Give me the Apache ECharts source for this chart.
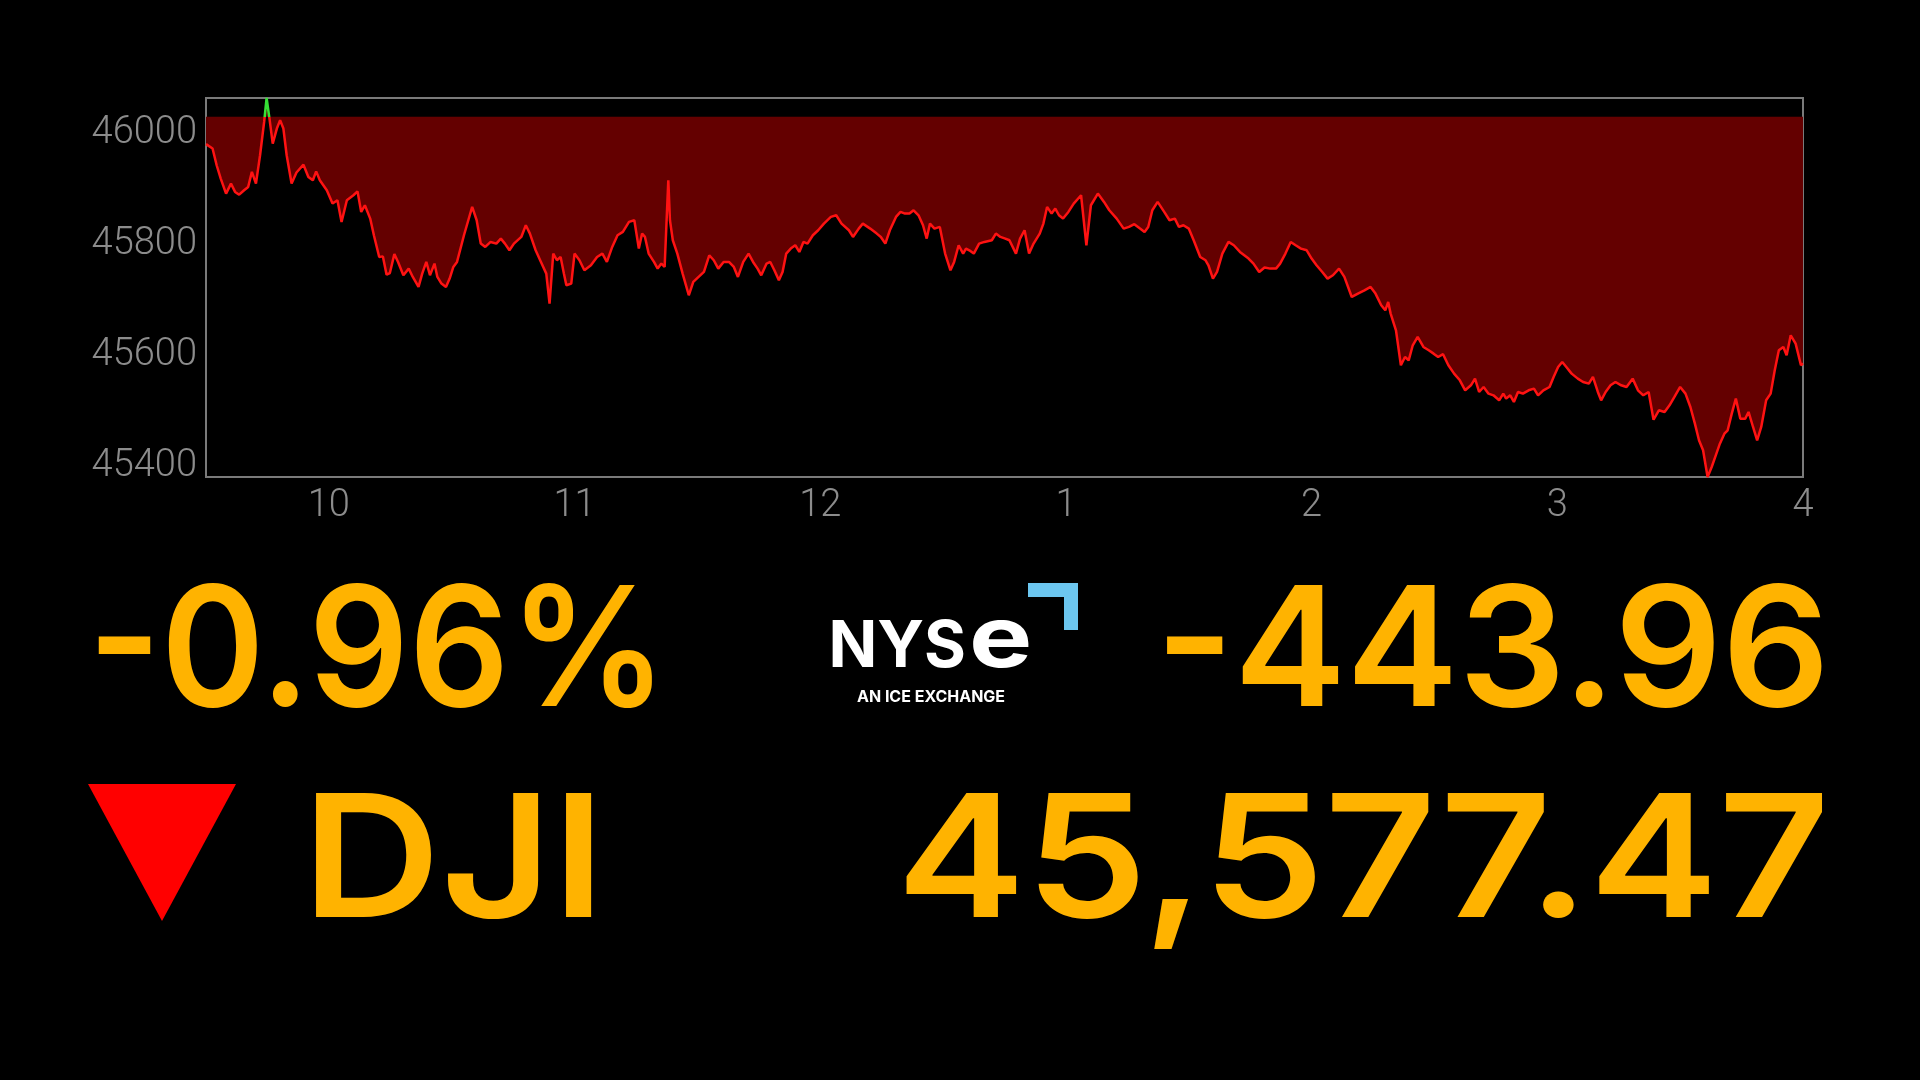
<!DOCTYPE html>
<html>
<head>
<meta charset="utf-8">
<script src="https://cdn.jsdelivr.net/npm/echarts@6/dist/echarts.min.js"></script>
<style>
  html, body { margin: 0; padding: 0; background: #000; }
  #chart { width: 1920px; height: 1080px; }
</style>
</head>
<body>
<div id="chart"></div>
<script>
// ---- Data ----
// Minutes since the 9:30 open
const minutesSinceOpen = [
  0, 1.6, 2.6, 3.6, 4.9, 6.1, 7.1, 8.1, 9.3, 10.3, 11.2, 12.2, 13.2, 14.2, 14.8, 15.5, 16.3, 17.3, 18.1, 18.9,
  19.7, 20.9, 22.1, 23.8, 25.0, 26.1, 26.9, 27.8, 29.5, 30.9, 32.1, 33.1, 34.4, 36.0, 37.0, 37.9, 38.8, 40.1, 41.0, 42.3,
  43.2, 44.1, 44.9, 46.0, 46.9, 48.2, 49.5, 50.5, 51.9, 52.8, 53.8, 54.7, 55.8, 56.5, 57.5, 58.6, 59.5, 60.4, 61.3, 63.0,
  65.0, 66.1, 67.1, 68.2, 69.5, 70.9, 72.0, 73.0, 74.1, 75.2, 77.0, 78.1, 79.1, 80.5, 81.8, 83.1, 83.9, 84.8, 85.7, 86.6,
  87.4, 88.0, 89.2, 90.0, 91.2, 92.4, 94.0, 95.5, 96.8, 97.9, 99.2, 100.5, 101.8, 103.3, 104.6, 105.7, 106.5, 107.2, 108.1, 109.4,
  110.3, 111.2, 112.0, 112.9, 113.3, 114.0, 115.1, 116.4, 117.9, 119.0, 120.3, 121.6, 122.9, 124.0, 125.1, 126.4, 127.7, 128.9, 129.9, 131.2,
  132.5, 133.6, 134.7, 135.6, 136.9, 137.8, 138.8, 139.9, 140.8, 141.7, 142.8, 143.9, 144.9, 145.9, 146.9, 148.2, 149.5, 150.9, 152.6, 153.9,
  155.2, 157.0, 158.0, 159.4, 160.4, 162.2, 163.8, 164.8, 165.9, 167.0, 168.5, 169.6, 170.7, 171.8, 172.8, 174.0, 175.1, 176.0, 176.8, 177.9,
  179.2, 180.5, 181.8, 182.7, 183.8, 184.9, 185.6, 186.4, 187.5, 188.8, 190.1, 191.9, 192.9, 194.0, 195.2, 196.2, 197.8, 198.8, 199.9, 201.0,
  202.1, 203.6, 204.5, 205.4, 206.5, 207.4, 208.3, 209.3, 210.6, 211.9, 213.7, 215.0, 216.1, 217.8, 219.3, 220.6, 222.4, 224.1, 225.4, 226.7,
  228.1, 229.2, 230.1, 231.1, 232.4, 234.0, 235.3, 236.6, 237.6, 238.7, 240.0, 241.2, 242.8, 244.1, 244.8, 245.9, 246.9, 248.2, 249.7, 251.0,
  252.5, 254.6, 255.8, 257.2, 258.5, 259.9, 261.3, 262.3, 263.6, 264.9, 266.1, 267.4, 268.8, 270.0, 271.2, 272.6, 273.9, 275.2, 276.7, 278.0,
  279.8, 281.3, 282.9, 284.4, 285.6, 287.0, 288.0, 288.7, 289.3, 290.6, 291.8, 292.8, 293.7, 294.7, 295.9, 297.3, 298.6, 299.8, 300.9, 302.1,
  303.4, 304.8, 306.2, 307.5, 308.9, 309.9, 310.9, 312.0, 313.2, 314.4, 315.8, 316.8, 317.5, 318.5, 319.4, 320.4, 321.6, 323.0, 324.3, 325.3,
  326.6, 328.1, 329.1, 330.2, 331.2, 332.2, 333.5, 335.0, 336.3, 337.7, 338.7, 339.9, 340.7, 341.8, 343.0, 344.2, 345.6, 346.9, 348.4, 349.7,
  351.0, 352.3, 353.5, 354.8, 356.2, 357.4, 358.6, 360.0, 361.3, 362.5, 363.6, 364.6, 365.6, 366.7, 367.7, 368.7, 369.7, 370.8, 371.6, 372.6,
  373.6, 374.7, 375.9, 376.7, 377.8, 378.8, 379.8, 381.0, 382.1, 383.1, 384.1, 385.2, 386.0, 387.0, 388.2, 389.5, 390.0
];
// Dow Jones Industrial Average level at those minutes
const djiValues = [
  45972, 45964, 45934, 45910, 45883, 45901, 45886, 45881, 45889, 45895, 45922, 45901, 45952, 46012, 46055, 46018, 45973, 46000, 46015, 46000,
  45952, 45901, 45921, 45935, 45913, 45907, 45923, 45907, 45889, 45865, 45871, 45832, 45871, 45880, 45887, 45850, 45862, 45838, 45808, 45769,
  45770, 45737, 45740, 45774, 45760, 45736, 45748, 45733, 45715, 45739, 45760, 45736, 45757, 45733, 45721, 45715, 45730, 45751, 45760, 45808,
  45859, 45835, 45793, 45787, 45796, 45793, 45802, 45793, 45781, 45793, 45805, 45826, 45811, 45781, 45760, 45739, 45685, 45775, 45763, 45769,
  45739, 45718, 45721, 45775, 45763, 45745, 45754, 45769, 45775, 45760, 45787, 45808, 45814, 45832, 45835, 45784, 45811, 45805, 45775, 45760,
  45748, 45757, 45751, 45907, 45835, 45799, 45775, 45739, 45700, 45724, 45733, 45742, 45772, 45763, 45748, 45760, 45760, 45751, 45733, 45760,
  45775, 45760, 45748, 45736, 45757, 45760, 45745, 45727, 45742, 45775, 45784, 45790, 45778, 45796, 45793, 45808, 45817, 45829, 45841, 45844,
  45829, 45817, 45805, 45820, 45829, 45820, 45811, 45805, 45793, 45817, 45841, 45850, 45847, 45847, 45853, 45844, 45826, 45802, 45829, 45820,
  45823, 45775, 45745, 45760, 45790, 45775, 45784, 45781, 45775, 45793, 45796, 45799, 45811, 45805, 45802, 45799, 45775, 45802, 45817, 45775,
  45793, 45811, 45829, 45859, 45847, 45856, 45844, 45838, 45850, 45865, 45880, 45790, 45862, 45883, 45868, 45853, 45838, 45820, 45823, 45828,
  45820, 45814, 45823, 45853, 45868, 45850, 45835, 45838, 45823, 45826, 45820, 45799, 45769, 45763, 45754, 45730, 45742, 45775, 45796, 45790,
  45778, 45766, 45757, 45742, 45750, 45748, 45748, 45757, 45775, 45796, 45790, 45784, 45781, 45766, 45754, 45742, 45730, 45736, 45748, 45733,
  45697, 45703, 45709, 45715, 45703, 45682, 45673, 45688, 45667, 45637, 45574, 45589, 45583, 45610, 45625, 45607, 45601, 45595, 45589, 45594,
  45574, 45559, 45547, 45529, 45538, 45550, 45526, 45535, 45523, 45520, 45511, 45523, 45514, 45520, 45508, 45526, 45523, 45529, 45532, 45520,
  45529, 45535, 45553, 45571, 45580, 45571, 45559, 45550, 45544, 45541, 45553, 45526, 45511, 45526, 45538, 45544, 45538, 45535, 45550, 45529,
  45520, 45526, 45476, 45493, 45490, 45502, 45517, 45535, 45523, 45499, 45469, 45439, 45421, 45373, 45391, 45412, 45433, 45451, 45457, 45487,
  45514, 45478, 45478, 45490, 45463, 45439, 45463, 45511, 45523, 45565, 45601, 45607, 45592, 45628, 45613, 45574, 45577.47
];
// Tick labels
const xTickMinutes = [30, 90, 150, 210, 270, 330, 390];
const xTickLabels = ['10', '11', '12', '1', '2', '3', '4'];
const yTickValues = [45400, 45600, 45800, 46000];
// Headline numbers
const indexName = 'DJI';
const lastPrice = 45577.47;
const netChange = -443.96;
const pctChange = -0.96;
const previousClose = +(lastPrice - netChange).toFixed(2);

// ---- Chart ----
const seriesData = minutesSinceOpen.map((m, i) => [m, djiValues[i]]);
const chart = echarts.init(document.getElementById('chart'), null, { renderer: 'canvas' });

const axisFont = { color: '#8c8c8c', fontSize: 38, fontFamily: 'Roboto', fontWeight: 300 };
const gold = '#FFB300';
const bigFont = 'Inter';

function bigText(str, x, y, size, align, sx) {
  return {
    type: 'text', x: x, y: y, scaleX: sx,
    style: {
      text: str, fill: gold, font: '600 ' + size + 'px ' + bigFont,
      align: align, verticalAlign: 'middle', textAlign: align, textVerticalAlign: 'middle'
    }
  };
}

const option = {
  backgroundColor: '#000000',
  animation: false,
  grid: {
    left: 206, right: 117, top: 98, bottom: 603,
    show: true, borderColor: '#7a7a7a', borderWidth: 2,
    outerBoundsMode: 'none'
  },
  xAxis: {
    type: 'value', min: 0, max: 390,
    splitLine: { show: false }, axisLine: { show: false }, axisTick: { show: false },
    axisLabel: Object.assign({
      customValues: xTickMinutes,
      formatter: v => xTickLabels[xTickMinutes.indexOf(v)],
      margin: 10, showMinLabel: true, showMaxLabel: true, hideOverlap: false
    }, axisFont)
  },
  yAxis: {
    type: 'value', min: 'dataMin', max: 'dataMax', scale: true,
    splitLine: { show: false }, axisLine: { show: false }, axisTick: { show: false },
    axisLabel: Object.assign({
      customValues: yTickValues, margin: 9,
      formatter: v => '{v|' + v + '}',
      rich: { v: Object.assign({ padding: [10, 0, 0, 0] }, axisFont) }
    }, axisFont)
  },
  visualMap: {
    show: false, type: 'piecewise', dimension: 1, seriesIndex: 0,
    pieces: [
      { gt: previousClose, lte: 47000, color: '#35e035' },
      { gte: 44000, lte: previousClose, color: '#ff1212' }
    ]
  },
  series: [{
    type: 'line',
    data: seriesData,
    symbol: 'none',
    lineStyle: { width: 2.5 },
    areaStyle: { origin: previousClose, color: '#640000', opacity: 1 },
    z: 3
  }],
  graphic: [
    // down triangle
    { type: 'polygon', shape: { points: [[88, 784], [236, 784], [162, 921]] }, style: { fill: '#ff0000' } },
    bigText(pctChange.toFixed(2) + '%', 88, 656, 167, 'left', 0.94),
    bigText(netChange.toFixed(2), 1830, 656, 167, 'right', 1.01),
    bigText(indexName, 302, 866, 170, 'left', 1.13),
    bigText(lastPrice.toLocaleString('en-US', { minimumFractionDigits: 2 }), 1830, 866, 170, 'right', 1.14),
    // NYSE logo
    { type: 'text', x: 966, y: 648, style: { text: 'NYS', fill: '#ffffff', font: '700 64px ' + bigFont, align: 'right', verticalAlign: 'middle', textAlign: 'right', textVerticalAlign: 'middle' } },
    { type: 'text', x: 969, y: 641, scaleX: 1.25, style: { text: 'e', fill: '#ffffff', font: '700 85px ' + bigFont, align: 'left', verticalAlign: 'middle', textAlign: 'left', textVerticalAlign: 'middle' } },
    { type: 'polygon', shape: { points: [[1028, 583], [1078, 583], [1078, 630], [1064, 630], [1064, 597], [1028, 597]] }, style: { fill: '#6cc6ef' } },
    { type: 'text', x: 931, y: 697, style: { text: 'AN ICE EXCHANGE', fill: '#ffffff', font: '700 16px ' + bigFont, align: 'center', verticalAlign: 'middle', textAlign: 'center', textVerticalAlign: 'middle' } }
  ]
};
chart.setOption(option);
</script>
</body>
</html>
